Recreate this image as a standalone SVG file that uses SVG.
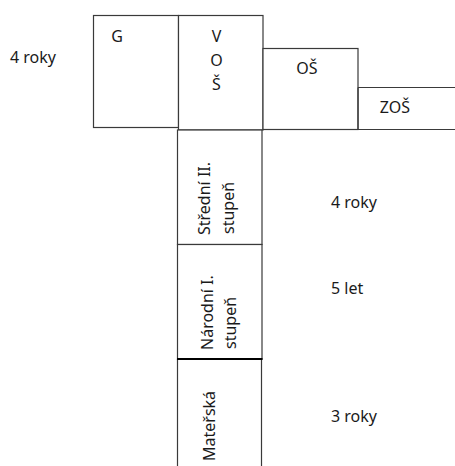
<svg xmlns="http://www.w3.org/2000/svg" width="455" height="466" viewBox="0 0 455 466">
  <style>
    .box { fill: #ffffff; stroke: #3a3a3a; stroke-width: 1.2; }
    .ln { fill: none; stroke: #3a3a3a; stroke-width: 1.2; }
    .thick { fill: none; stroke: #000000; stroke-width: 2; }
    text { font-family: "Noto Sans", "Open Sans", sans-serif; font-size: 16px; fill: #1a1a1a; }
    .c { text-anchor: middle; }
  </style>
  <rect width="455" height="466" fill="#ffffff"/>
  <g id="connectors"/>
  <g id="node-G">
    <rect class="box" x="93.5" y="15.5" width="85" height="112"/>
    <text class="c" x="117" y="42">G</text>
  </g>
  <g id="node-VOS">
    <rect class="box" x="178.5" y="15.5" width="84.5" height="114.5"/>
    <text class="c" x="216.5" y="42">V</text>
    <text class="c" x="216.5" y="65.5">O</text>
    <text class="c" x="216.5" y="90">Š</text>
  </g>
  <g id="node-OS">
    <rect class="box" x="263" y="48.5" width="95" height="81"/>
    <text class="c" x="307" y="74">OŠ</text>
  </g>
  <g id="node-ZOS">
    <path class="ln" d="M358 87.5 H455 M358 129.5 H455 M358 87.5 V129.5"/>
    <text class="c" x="395" y="113">ZOŠ</text>
  </g>
  <g id="node-Stredni">
    <rect class="box" x="177.5" y="130" width="84.5" height="114.5"/>
    <text transform="translate(210,235) rotate(-90)">Střední II.</text>
    <text transform="translate(234,234) rotate(-90)">stupeň</text>
  </g>
  <g id="node-Narodni">
    <rect class="box" x="177.5" y="244.5" width="84.5" height="114.5"/>
    <text transform="translate(212.5,350) rotate(-90)">Národní I.</text>
    <text transform="translate(236,349) rotate(-90)">stupeň</text>
  </g>
  <g id="node-Materska">
    <path class="ln" d="M177.5 359 V466 M261.5 359 V466"/>
    <path class="thick" d="M177 359 H262.5"/>
    <text transform="translate(215,461) rotate(-90)">Mateřská</text>
  </g>
  <g id="labels">
    <text x="10" y="63">4 roky</text>
    <text x="331" y="208">4 roky</text>
    <text x="331" y="294">5 let</text>
    <text x="331" y="421.5">3 roky</text>
  </g>
</svg>
